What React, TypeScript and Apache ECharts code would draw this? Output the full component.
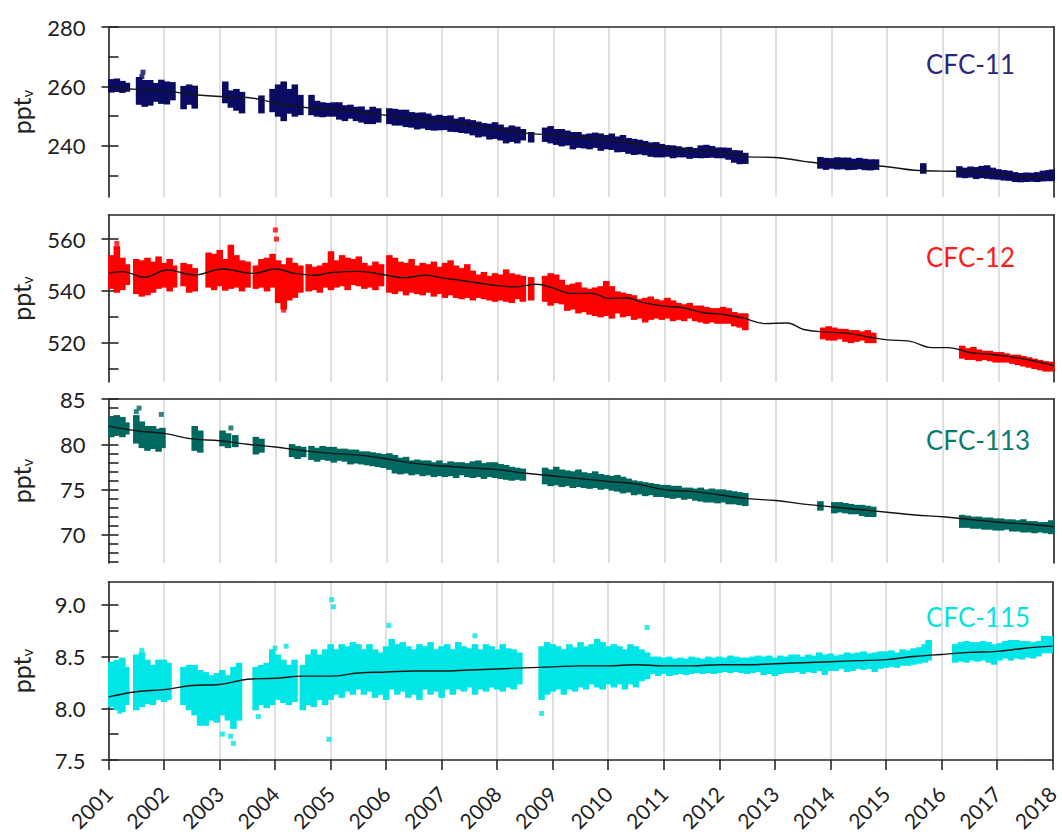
import { useEffect, useRef } from "react";
import * as echarts from "echarts";

const FONT = "Lato, 'Open Sans', sans-serif";
const AX = "#262626";

// ---- x axis ----
const yearMin = 2001;
const yearMax = 2018;

// ---- CFC-11 ----
const cfc11Trend = [
  [2001.0, 260.0], [2001.5, 259.0], [2002.0, 258.6], [2002.5, 257.3], [2003.0, 256.6], [2003.5, 256.3],
  [2004.0, 254.5], [2004.5, 253.0], [2005.0, 252.2], [2005.5, 251.5], [2006.0, 250.3], [2006.5, 249.0],
  [2007.0, 248.4], [2007.5, 247.0], [2008.0, 245.6], [2008.5, 244.3], [2009.0, 243.6], [2009.5, 242.8],
  [2010.0, 242.0], [2010.5, 240.7], [2011.0, 239.3], [2011.5, 238.5], [2012.0, 238.0], [2012.5, 236.3],
  [2013.0, 236.1], [2013.5, 234.8], [2014.0, 233.8], [2014.5, 233.5], [2015.0, 233.0], [2015.5, 231.8],
  [2016.0, 231.5], [2016.5, 231.3], [2017.0, 230.5], [2017.5, 229.4], [2018.0, 230.0],
];
const cfc11Ranges = [
  [2001.05, 258.6, 261.8], [2001.15, 258.8, 262.0], [2001.25, 258.5, 261.2], [2001.33, 258.9, 260.6],
  [2001.55, 254.5, 262.5], [2001.65, 253.8, 261.5], [2001.75, 254.2, 261.5], [2001.85, 255.5, 260.5],
  [2001.95, 254.8, 261.6], [2002.05, 254.6, 261.0], [2002.15, 256.0, 260.8],
  [2002.35, 253.0, 259.5], [2002.45, 254.5, 260.0], [2002.55, 253.2, 259.6],
  [2003.1, 255.0, 261.0], [2003.2, 253.5, 258.0], [2003.3, 252.5, 258.5], [2003.4, 251.6, 257.5],
  [2003.75, 251.6, 256.3],
  [2003.95, 252.0, 258.5], [2004.05, 250.5, 260.0], [2004.15, 249.0, 261.0], [2004.25, 251.5, 258.5],
  [2004.35, 250.5, 260.0], [2004.45, 251.0, 256.5],
  [2004.65, 251.0, 256.5], [2004.75, 250.5, 254.5], [2004.85, 250.3, 254.0], [2004.95, 250.5, 253.8],
  [2005.05, 250.5, 254.0], [2005.15, 249.5, 254.0], [2005.25, 249.0, 253.0], [2005.35, 249.8, 253.2],
  [2005.45, 249.0, 252.5], [2005.55, 248.5, 252.6], [2005.65, 248.0, 251.5], [2005.75, 248.0, 252.5],
  [2005.85, 248.5, 252.0],
  [2006.05, 248.0, 252.0], [2006.15, 247.5, 251.8], [2006.25, 247.5, 251.5], [2006.35, 247.0, 251.5],
  [2006.45, 246.8, 250.7], [2006.55, 246.2, 250.5], [2006.65, 246.5, 250.6], [2006.75, 246.0, 250.2],
  [2006.85, 245.8, 249.5], [2006.95, 245.9, 249.8], [2007.05, 246.0, 249.4], [2007.15, 245.4, 249.6],
  [2007.25, 245.3, 248.5], [2007.35, 245.0, 249.0], [2007.45, 244.8, 248.3], [2007.55, 244.2, 248.0],
  [2007.65, 243.5, 247.5], [2007.75, 243.8, 247.0], [2007.85, 242.8, 246.8], [2007.95, 243.0, 247.3],
  [2008.05, 242.5, 246.5], [2008.15, 241.5, 245.6], [2008.25, 242.0, 246.2], [2008.35, 241.5, 245.8],
  [2008.45, 242.5, 245.0],
  [2008.6, 241.8, 244.0],
  [2008.85, 242.0, 245.5], [2008.95, 241.5, 246.0], [2009.05, 241.0, 245.0], [2009.15, 240.5, 245.0],
  [2009.25, 240.8, 244.5], [2009.35, 239.5, 244.0], [2009.45, 240.0, 244.0], [2009.55, 239.8, 243.2],
  [2009.65, 239.5, 243.5], [2009.75, 240.0, 243.8], [2009.85, 239.0, 243.5], [2009.95, 239.5, 243.0],
  [2010.05, 239.3, 243.5], [2010.15, 238.5, 242.5], [2010.25, 238.6, 243.0], [2010.35, 238.0, 242.0],
  [2010.45, 237.6, 241.7], [2010.55, 237.8, 241.4], [2010.65, 237.5, 241.0], [2010.75, 237.0, 240.5],
  [2010.85, 236.8, 240.6], [2010.95, 236.8, 240.0], [2011.05, 237.0, 239.6], [2011.15, 236.5, 239.5],
  [2011.25, 236.8, 239.2], [2011.35, 236.8, 238.8], [2011.45, 236.3, 239.0], [2011.55, 236.6, 238.6],
  [2011.65, 236.5, 239.5], [2011.75, 236.6, 239.7], [2011.85, 236.7, 239.3], [2011.95, 236.5, 238.8],
  [2012.05, 236.5, 238.8], [2012.15, 236.0, 238.7], [2012.25, 235.0, 237.9], [2012.35, 234.5, 237.8],
  [2012.45, 234.6, 237.0],
  [2013.8, 233.0, 235.6], [2013.9, 232.6, 235.3], [2014.0, 233.0, 235.2], [2014.1, 232.7, 235.5],
  [2014.2, 232.8, 235.4], [2014.3, 232.5, 235.4], [2014.4, 232.6, 235.0], [2014.5, 232.8, 235.3],
  [2014.6, 232.5, 235.0], [2014.7, 232.4, 234.8], [2014.8, 232.6, 234.8],
  [2015.65, 231.3, 233.5],
  [2016.3, 230.0, 232.5], [2016.4, 229.8, 232.0], [2016.5, 230.0, 232.4], [2016.6, 229.5, 232.2],
  [2016.7, 229.8, 232.6], [2016.8, 229.6, 232.8], [2016.9, 229.4, 232.0], [2017.0, 229.3, 231.5],
  [2017.1, 229.0, 231.2], [2017.2, 228.9, 231.0], [2017.3, 228.5, 230.5], [2017.4, 228.4, 230.2],
  [2017.5, 228.5, 230.4], [2017.6, 228.6, 230.3], [2017.7, 228.5, 230.5], [2017.8, 228.7, 231.0],
  [2017.9, 228.8, 231.2], [2017.97, 228.8, 231.4],
];
const cfc11Outliers = [[2001.62, 264.8], [2001.6, 263.3]];
const cfc11Labels = [240, 260, 280];
const cfc11Ticks = [230, 240, 250, 260, 270, 280];

// ---- CFC-12 ----
const cfc12Trend = [
  [2001.0, 546.8], [2001.25, 547.4], [2001.65, 545.2], [2002.05, 548.0], [2002.55, 546.1], [2003.05, 548.4],
  [2003.6, 546.7], [2004.0, 548.4], [2004.35, 546.7], [2004.7, 546.0], [2005.0, 547.0], [2005.5, 547.5],
  [2006.0, 546.0], [2006.3, 545.0], [2006.7, 546.0], [2007.0, 545.0], [2007.5, 543.5], [2008.0, 542.0],
  [2008.3, 541.5], [2008.7, 542.5], [2009.0, 541.0], [2009.3, 539.0], [2009.7, 539.0], [2010.0, 537.0],
  [2010.3, 537.3], [2010.6, 535.5], [2011.0, 534.0], [2011.3, 533.5], [2011.7, 531.5], [2012.0, 531.0],
  [2012.4, 529.5], [2012.8, 527.3], [2013.2, 527.5], [2013.5, 525.0], [2013.9, 524.0], [2014.3, 523.5],
  [2014.7, 522.0], [2015.0, 521.0], [2015.4, 520.5], [2015.8, 518.0], [2016.1, 518.0], [2016.5, 516.0],
  [2016.8, 515.5], [2017.2, 514.5], [2017.6, 513.0], [2018.0, 511.0],
];
const cfc12Ranges = [
  [2001.05, 541.5, 553.0], [2001.15, 540.0, 556.5], [2001.25, 541.0, 552.0], [2001.33, 543.0, 549.5],
  [2001.5, 539.5, 551.5], [2001.6, 538.5, 551.0], [2001.7, 539.0, 552.0], [2001.8, 540.0, 550.5],
  [2001.9, 541.5, 552.5], [2002.0, 542.0, 550.0], [2002.1, 540.5, 551.5], [2002.18, 542.0, 549.0],
  [2002.35, 542.5, 550.0], [2002.45, 540.0, 549.5], [2002.55, 540.5, 548.0],
  [2002.8, 542.0, 554.0], [2002.9, 541.0, 553.5], [2003.0, 542.5, 555.0], [2003.1, 540.8, 551.5],
  [2003.2, 541.5, 557.0], [2003.3, 542.0, 553.0], [2003.4, 540.5, 551.0], [2003.5, 542.0, 550.5],
  [2003.65, 541.5, 549.0], [2003.75, 542.0, 551.5], [2003.85, 540.5, 552.0], [2003.95, 542.0, 553.5],
  [2004.05, 536.0, 551.0], [2004.15, 533.5, 549.5], [2004.25, 537.0, 552.0], [2004.35, 538.0, 550.0],
  [2004.45, 540.0, 549.0],
  [2004.6, 540.5, 549.5], [2004.7, 541.0, 548.5], [2004.8, 540.0, 549.0], [2004.9, 542.0, 550.0],
  [2005.0, 541.0, 554.5], [2005.1, 542.0, 551.0], [2005.2, 542.5, 553.0], [2005.3, 541.0, 552.0],
  [2005.4, 543.0, 551.5], [2005.5, 542.5, 552.5], [2005.6, 541.5, 550.0], [2005.7, 542.0, 549.0],
  [2005.8, 541.0, 550.5], [2005.9, 542.5, 549.5],
  [2006.05, 540.0, 553.0], [2006.15, 539.5, 552.0], [2006.25, 540.5, 550.5], [2006.35, 539.0, 550.0],
  [2006.45, 540.0, 551.5], [2006.55, 539.5, 549.0], [2006.65, 539.0, 550.0], [2006.75, 540.0, 549.5],
  [2006.85, 538.5, 550.5], [2006.95, 539.5, 548.5], [2007.05, 538.0, 550.0], [2007.15, 539.0, 551.0],
  [2007.25, 538.0, 549.0], [2007.35, 537.5, 548.0], [2007.45, 538.0, 549.5], [2007.55, 537.0, 547.0],
  [2007.65, 538.0, 545.5], [2007.75, 537.5, 546.5], [2007.85, 537.0, 545.0], [2007.95, 536.5, 546.0],
  [2008.05, 537.0, 545.5], [2008.15, 536.5, 547.5], [2008.25, 536.0, 546.0], [2008.35, 537.5, 545.5],
  [2008.45, 536.5, 545.0],
  [2008.6, 537.0, 544.5],
  [2008.85, 536.5, 545.0], [2008.95, 535.0, 546.0], [2009.05, 536.0, 545.5], [2009.15, 535.5, 543.5],
  [2009.25, 533.0, 541.5], [2009.35, 533.5, 542.0], [2009.45, 532.0, 542.5], [2009.55, 532.5, 540.5],
  [2009.65, 531.5, 540.0], [2009.75, 531.0, 540.5], [2009.85, 530.5, 541.0], [2009.95, 531.0, 543.0],
  [2010.05, 530.0, 541.0], [2010.15, 532.0, 539.0], [2010.25, 530.5, 538.5], [2010.35, 531.0, 538.0],
  [2010.45, 529.5, 537.5], [2010.55, 530.0, 536.0], [2010.65, 528.5, 536.5], [2010.75, 529.5, 537.0],
  [2010.85, 530.0, 536.0], [2010.95, 529.5, 535.5], [2011.05, 530.0, 536.5], [2011.15, 529.0, 535.5],
  [2011.25, 529.5, 534.5], [2011.35, 529.0, 534.0], [2011.45, 530.0, 534.5], [2011.55, 529.0, 533.5],
  [2011.65, 528.5, 533.5], [2011.75, 528.0, 533.0], [2011.85, 528.5, 532.5], [2011.95, 528.0, 532.5],
  [2012.05, 528.0, 533.0], [2012.15, 528.0, 532.5], [2012.25, 527.0, 531.0], [2012.35, 526.5, 530.5],
  [2012.45, 525.5, 530.5],
  [2013.85, 522.0, 525.0], [2013.95, 521.5, 525.5], [2014.05, 521.5, 525.0], [2014.15, 522.0, 524.5],
  [2014.25, 521.0, 524.5], [2014.35, 520.5, 524.0], [2014.45, 521.0, 524.0], [2014.55, 521.5, 523.5],
  [2014.65, 520.5, 524.0], [2014.75, 520.5, 523.0],
  [2016.35, 514.5, 518.0], [2016.45, 514.0, 517.0], [2016.55, 514.0, 517.5], [2016.65, 513.5, 516.5],
  [2016.75, 514.0, 516.0], [2016.85, 513.5, 516.0], [2016.95, 513.0, 515.5], [2017.05, 513.0, 515.5],
  [2017.15, 513.0, 515.0], [2017.25, 512.5, 514.5], [2017.35, 512.0, 514.5], [2017.45, 511.5, 514.0],
  [2017.55, 511.0, 513.5], [2017.65, 510.5, 513.0], [2017.75, 510.0, 512.5], [2017.85, 509.5, 512.0],
  [2017.95, 509.5, 511.8],
];
const cfc12Outliers = [[2001.15, 558.3], [2004.0, 563.5], [2004.02, 560.0], [2004.15, 532.5]];
const cfc12Labels = [520, 540, 560];
const cfc12Ticks = [510, 520, 530, 540, 550, 560];

// ---- CFC-113 ----
const cfc113Trend = [
  [2001.0, 82.0], [2001.5, 81.5], [2002.0, 81.2], [2002.5, 80.6], [2003.0, 80.4], [2003.5, 80.0],
  [2004.0, 79.7], [2004.5, 79.3], [2005.0, 79.0], [2005.5, 78.8], [2006.0, 78.4], [2006.5, 77.9],
  [2007.0, 77.6], [2007.5, 77.4], [2008.0, 77.2], [2008.5, 76.8], [2009.0, 76.5], [2009.5, 76.2],
  [2010.0, 75.9], [2010.5, 75.6], [2011.0, 75.0], [2011.5, 74.8], [2012.0, 74.4], [2012.5, 74.0],
  [2013.0, 73.8], [2013.5, 73.4], [2014.0, 73.1], [2014.5, 72.8], [2015.0, 72.5], [2015.5, 72.2],
  [2016.0, 72.0], [2016.5, 71.7], [2017.0, 71.4], [2017.5, 71.2], [2018.0, 70.9],
];
const cfc113Ranges = [
  [2001.05, 81.0, 82.8], [2001.15, 81.2, 83.0], [2001.25, 81.0, 82.8], [2001.32, 81.3, 82.2],
  [2001.5, 80.3, 83.0], [2001.6, 79.8, 82.3], [2001.7, 79.5, 81.8], [2001.8, 79.7, 81.8],
  [2001.9, 79.4, 81.5], [2001.97, 79.8, 81.6],
  [2002.55, 79.5, 81.8], [2002.65, 79.3, 81.3],
  [2003.05, 80.0, 81.3], [2003.15, 79.8, 81.0], [2003.28, 79.9, 80.8],
  [2003.65, 79.1, 80.6], [2003.75, 79.3, 80.4],
  [2004.3, 78.8, 79.8], [2004.4, 78.6, 79.6], [2004.5, 78.8, 79.5],
  [2004.65, 78.5, 79.6], [2004.75, 78.3, 79.4], [2004.85, 78.5, 79.6], [2004.95, 78.4, 79.5],
  [2005.05, 78.2, 79.5], [2005.15, 78.4, 79.3], [2005.25, 78.3, 79.3], [2005.35, 78.0, 79.2],
  [2005.45, 78.1, 79.2], [2005.55, 78.0, 79.0], [2005.65, 77.9, 79.0], [2005.75, 77.8, 78.9],
  [2005.85, 77.7, 78.8], [2005.95, 77.6, 78.7], [2006.05, 77.4, 78.8], [2006.15, 77.0, 78.6],
  [2006.25, 76.9, 78.3], [2006.35, 77.0, 78.4], [2006.45, 76.8, 78.0], [2006.55, 76.9, 78.1],
  [2006.65, 76.7, 78.0], [2006.75, 76.8, 78.0], [2006.85, 76.6, 77.8], [2006.95, 76.7, 78.0],
  [2007.05, 76.6, 77.7], [2007.15, 76.7, 77.9], [2007.25, 76.5, 77.8], [2007.35, 76.8, 77.8],
  [2007.45, 76.6, 77.7], [2007.55, 76.5, 77.9], [2007.65, 76.6, 78.0], [2007.75, 76.4, 77.7],
  [2007.85, 76.6, 77.8], [2007.95, 76.5, 77.8], [2008.05, 76.4, 77.6], [2008.15, 76.3, 77.5],
  [2008.25, 76.2, 77.3], [2008.35, 76.3, 77.2], [2008.45, 76.2, 77.1],
  [2008.85, 75.8, 77.2], [2008.95, 75.6, 77.0], [2009.05, 75.7, 77.3], [2009.15, 75.5, 77.0],
  [2009.25, 75.6, 76.9], [2009.35, 75.4, 76.8], [2009.45, 75.5, 77.0], [2009.55, 75.4, 76.7],
  [2009.65, 75.3, 76.6], [2009.75, 75.4, 76.8], [2009.85, 75.2, 76.5], [2009.95, 75.3, 76.4],
  [2010.05, 75.1, 76.3], [2010.15, 75.0, 76.4], [2010.25, 74.8, 76.2], [2010.35, 74.9, 76.0],
  [2010.45, 74.6, 75.8], [2010.55, 74.7, 75.7], [2010.65, 74.5, 75.6], [2010.75, 74.6, 75.5],
  [2010.85, 74.4, 75.4], [2010.95, 74.4, 75.3], [2011.05, 74.3, 75.3], [2011.15, 74.2, 75.2],
  [2011.25, 74.3, 75.2], [2011.35, 74.1, 75.0], [2011.45, 74.2, 75.0], [2011.55, 74.0, 74.9],
  [2011.65, 73.9, 75.0], [2011.75, 73.8, 74.8], [2011.85, 73.8, 74.9], [2011.95, 73.7, 74.8],
  [2012.05, 73.8, 74.8], [2012.15, 73.6, 74.7], [2012.25, 73.6, 74.6], [2012.35, 73.5, 74.5],
  [2012.45, 73.4, 74.4],
  [2013.8, 72.9, 73.5], [2014.05, 72.6, 73.4], [2014.15, 72.7, 73.4], [2014.25, 72.6, 73.3],
  [2014.35, 72.5, 73.2], [2014.45, 72.5, 73.1], [2014.55, 72.3, 73.1], [2014.65, 72.2, 73.0],
  [2014.75, 72.2, 72.9],
  [2016.35, 71.0, 72.0], [2016.45, 71.0, 71.9], [2016.55, 70.9, 71.8], [2016.65, 70.9, 71.8],
  [2016.75, 70.8, 71.7], [2016.85, 70.8, 71.7], [2016.95, 70.7, 71.6], [2017.05, 70.7, 71.6],
  [2017.15, 70.8, 71.5], [2017.25, 70.6, 71.5], [2017.35, 70.6, 71.4], [2017.45, 70.5, 71.5],
  [2017.55, 70.5, 71.3], [2017.65, 70.4, 71.3], [2017.75, 70.5, 71.2], [2017.85, 70.4, 71.2],
  [2017.95, 70.3, 71.4],
];
const cfc113Outliers = [[2001.55, 84.0], [2001.5, 83.6], [2001.95, 83.3], [2003.2, 81.8]];
const cfc113Labels = [70, 75, 80, 85];
const cfc113Ticks = [67, 68, 69, 70, 71, 72, 73, 74, 75, 76, 77, 78, 79, 80, 81, 82, 83, 84, 85];

// ---- CFC-115 ----
const cfc115Trend = [
  [2001.0, 8.11], [2001.5, 8.16], [2002.0, 8.18], [2002.5, 8.22], [2003.0, 8.23], [2003.5, 8.28],
  [2004.0, 8.29], [2004.5, 8.31], [2005.0, 8.31], [2005.5, 8.34], [2006.0, 8.35], [2006.5, 8.36],
  [2007.0, 8.36], [2007.5, 8.37], [2008.0, 8.38], [2008.5, 8.39], [2009.0, 8.40], [2009.5, 8.41],
  [2010.0, 8.41], [2010.5, 8.42], [2011.0, 8.41], [2011.5, 8.41], [2012.0, 8.42], [2012.5, 8.42],
  [2013.0, 8.43], [2013.5, 8.44], [2014.0, 8.45], [2014.5, 8.46], [2015.0, 8.47], [2015.5, 8.50],
  [2016.0, 8.52], [2016.5, 8.54], [2017.0, 8.55], [2017.5, 8.58], [2018.0, 8.60],
];
const cfc115Ranges = [
  [2001.05, 8.03, 8.43], [2001.15, 8.00, 8.45], [2001.25, 7.98, 8.47], [2001.32, 8.05, 8.38],
  [2001.5, 8.00, 8.50], [2001.6, 8.03, 8.52], [2001.7, 8.06, 8.45], [2001.8, 8.05, 8.40],
  [2001.9, 8.10, 8.45], [2002.0, 8.08, 8.45], [2002.08, 8.10, 8.42],
  [2002.35, 8.05, 8.38], [2002.45, 8.00, 8.40], [2002.55, 7.95, 8.40], [2002.65, 7.85, 8.35],
  [2002.75, 7.85, 8.33], [2002.85, 7.90, 8.30], [2002.95, 7.88, 8.32], [2003.05, 7.95, 8.35],
  [2003.15, 7.90, 8.30], [2003.25, 7.82, 8.38], [2003.35, 7.90, 8.42],
  [2003.65, 8.00, 8.38], [2003.75, 8.05, 8.40], [2003.85, 8.02, 8.42],
  [2003.95, 8.05, 8.55], [2004.05, 8.10, 8.50], [2004.15, 8.07, 8.45], [2004.25, 8.05, 8.40],
  [2004.35, 8.08, 8.45],
  [2004.5, 8.00, 8.40], [2004.6, 8.05, 8.50], [2004.7, 8.03, 8.55], [2004.8, 8.10, 8.50],
  [2004.9, 8.05, 8.55], [2005.0, 8.10, 8.60], [2005.1, 8.15, 8.55], [2005.2, 8.12, 8.60],
  [2005.3, 8.18, 8.58], [2005.4, 8.15, 8.62], [2005.5, 8.20, 8.60], [2005.6, 8.15, 8.55],
  [2005.7, 8.18, 8.60], [2005.8, 8.12, 8.55], [2005.9, 8.15, 8.52], [2006.0, 8.10, 8.58],
  [2006.1, 8.20, 8.65], [2006.2, 8.15, 8.60], [2006.3, 8.18, 8.62], [2006.4, 8.12, 8.58],
  [2006.5, 8.15, 8.55], [2006.6, 8.10, 8.60], [2006.7, 8.20, 8.58], [2006.8, 8.15, 8.62],
  [2006.9, 8.18, 8.55], [2007.0, 8.12, 8.58], [2007.1, 8.20, 8.60], [2007.2, 8.15, 8.55],
  [2007.3, 8.20, 8.62], [2007.4, 8.18, 8.58], [2007.5, 8.22, 8.56], [2007.6, 8.15, 8.60],
  [2007.7, 8.20, 8.55], [2007.8, 8.18, 8.60], [2007.9, 8.22, 8.58], [2008.0, 8.20, 8.55],
  [2008.1, 8.18, 8.60], [2008.2, 8.22, 8.56], [2008.3, 8.20, 8.55], [2008.4, 8.25, 8.52],
  [2008.8, 8.10, 8.58], [2008.9, 8.15, 8.62], [2009.0, 8.18, 8.60], [2009.1, 8.20, 8.58],
  [2009.2, 8.15, 8.55], [2009.3, 8.20, 8.60], [2009.4, 8.18, 8.57], [2009.5, 8.22, 8.62],
  [2009.6, 8.20, 8.58], [2009.7, 8.25, 8.60], [2009.8, 8.22, 8.65], [2009.9, 8.20, 8.62],
  [2010.0, 8.25, 8.58], [2010.1, 8.22, 8.60], [2010.2, 8.25, 8.58], [2010.3, 8.20, 8.55],
  [2010.4, 8.25, 8.60], [2010.5, 8.22, 8.58], [2010.6, 8.28, 8.55], [2010.7, 8.30, 8.52],
  [2010.8, 8.35, 8.48], [2010.9, 8.33, 8.48], [2011.0, 8.35, 8.47], [2011.1, 8.33, 8.48],
  [2011.2, 8.34, 8.46], [2011.3, 8.35, 8.47], [2011.4, 8.34, 8.46], [2011.5, 8.35, 8.48],
  [2011.6, 8.36, 8.47], [2011.7, 8.35, 8.46], [2011.8, 8.36, 8.48], [2011.9, 8.35, 8.47],
  [2012.0, 8.36, 8.48], [2012.1, 8.37, 8.47], [2012.2, 8.36, 8.49], [2012.3, 8.37, 8.48],
  [2012.4, 8.36, 8.47], [2012.5, 8.35, 8.47], [2012.6, 8.36, 8.48], [2012.7, 8.37, 8.49],
  [2012.8, 8.34, 8.48], [2012.9, 8.35, 8.49], [2013.0, 8.33, 8.47], [2013.1, 8.35, 8.49],
  [2013.2, 8.36, 8.48], [2013.3, 8.36, 8.50], [2013.4, 8.37, 8.50], [2013.5, 8.35, 8.48],
  [2013.6, 8.37, 8.50], [2013.7, 8.36, 8.49], [2013.8, 8.38, 8.52], [2013.9, 8.34, 8.50],
  [2014.0, 8.38, 8.51], [2014.1, 8.38, 8.49], [2014.2, 8.40, 8.50], [2014.3, 8.37, 8.52],
  [2014.4, 8.38, 8.51], [2014.5, 8.40, 8.52], [2014.6, 8.39, 8.53], [2014.7, 8.40, 8.51],
  [2014.8, 8.37, 8.52], [2014.9, 8.40, 8.53], [2015.0, 8.41, 8.53], [2015.1, 8.42, 8.54],
  [2015.2, 8.41, 8.52], [2015.3, 8.43, 8.55], [2015.4, 8.43, 8.54], [2015.5, 8.44, 8.56],
  [2015.6, 8.45, 8.57], [2015.7, 8.46, 8.60], [2015.77, 8.48, 8.64],
  [2016.25, 8.46, 8.60], [2016.35, 8.47, 8.62], [2016.45, 8.46, 8.63], [2016.55, 8.48, 8.62],
  [2016.65, 8.47, 8.62], [2016.75, 8.48, 8.63], [2016.85, 8.46, 8.62], [2016.95, 8.44, 8.60],
  [2017.05, 8.48, 8.61], [2017.15, 8.50, 8.63], [2017.25, 8.48, 8.64], [2017.35, 8.50, 8.64],
  [2017.45, 8.49, 8.63], [2017.55, 8.51, 8.63], [2017.65, 8.50, 8.62], [2017.75, 8.52, 8.63],
  [2017.85, 8.55, 8.68], [2017.95, 8.55, 8.68],
];
const cfc115Outliers = [
  [2001.6, 8.56], [2001.2, 7.97], [2003.05, 7.75], [2003.2, 7.73], [2003.25, 7.66], [2003.7, 7.92],
  [2004.0, 8.58], [2004.2, 8.60], [2005.02, 9.05], [2005.05, 8.98], [2004.97, 7.70], [2006.05, 8.80],
  [2008.8, 7.95], [2010.7, 8.78], [2007.6, 8.70],
];
const cfc115Labels = [7.5, 8.0, 8.5, 9.0];
const cfc115Ticks = [7.5, 7.75, 8.0, 8.25, 8.5, 8.75, 9.0];

const panels = [
  { name: "CFC-11", trend: cfc11Trend, ranges: cfc11Ranges, outliers: cfc11Outliers, labels: cfc11Labels, ticks: cfc11Ticks,
    min: 222.8, max: 280, top: 27, height: 170, color: "#0b0b63", labelColor: "#28287c", labelY: 67, fmt: (v: number) => String(v) },
  { name: "CFC-12", trend: cfc12Trend, ranges: cfc12Ranges, outliers: cfc12Outliers, labels: cfc12Labels, ticks: cfc12Ticks,
    min: 504.7, max: 569.3, top: 215, height: 167, color: "#ff0000", labelColor: "#ff1a1a", labelY: 260, fmt: (v: number) => String(v) },
  { name: "CFC-113", trend: cfc113Trend, ranges: cfc113Ranges, outliers: cfc113Outliers, labels: cfc113Labels, ticks: cfc113Ticks,
    min: 66.9, max: 85, top: 399, height: 164, color: "#00685f", labelColor: "#0a7a70", labelY: 443, fmt: (v: number) => String(v) },
  { name: "CFC-115", trend: cfc115Trend, ranges: cfc115Ranges, outliers: cfc115Outliers, labels: cfc115Labels, ticks: cfc115Ticks,
    min: 7.5, max: 9.22, top: 582, height: 178, color: "#00e6e6", labelColor: "#00e3e3", labelY: 620, fmt: (v: number) => v.toFixed(1) },
];

export default function App() {
  const ref = useRef<HTMLDivElement>(null);
  useEffect(() => {
    if (!ref.current) return;
    const chart = echarts.init(ref.current, undefined, { renderer: "svg" });
    const grid: any[] = [];
    const xAxis: any[] = [];
    const yAxis: any[] = [];
    const series: any[] = [];
    const graphic: any[] = [];
    panels.forEach((p, i) => {
      const last = i === panels.length - 1;
      grid.push({ left: 107.5, right: 8, top: p.top, height: p.height, containLabel: false });
      xAxis.push({
        gridIndex: i, type: "value", min: yearMin, max: yearMax, interval: 1, position: "bottom",
        axisLine: { show: last, onZero: false, lineStyle: { color: AX, width: 1.6 } },
        axisTick: { show: last, length: 10, lineStyle: { color: AX, width: 1.6 } },
        axisLabel: {
          show: last, rotate: 45, margin: 30, fontSize: 21, fontFamily: FONT, color: "#222",
          formatter: (v: number) => String(v),
        },
        splitLine: { show: true, lineStyle: { color: "#d6d6d6", width: 1.5 } },
      });
      xAxis.push({
        gridIndex: i, type: "value", min: yearMin, max: yearMax, position: "top",
        axisLine: { show: true, lineStyle: { color: AX, width: 1.6 } },
        axisTick: { show: false }, axisLabel: { show: false }, splitLine: { show: false },
      });
      yAxis.push({
        gridIndex: i, type: "value", min: p.min, max: p.max, position: "left",
        axisLine: { show: true, onZero: false, lineStyle: { color: AX, width: 1.6 } },
        axisTick: { show: true, inside: false, length: 7, customValues: p.labels, lineStyle: { color: AX, width: 1.6 } },
        axisLabel: { customValues: p.labels, formatter: p.fmt, margin: 23, fontSize: 22, fontFamily: FONT, color: "#222" },
        splitLine: { show: false },
        name: "{a|ppt}{b|v}", nameLocation: "middle", nameRotate: 90, nameGap: 74,
        nameTextStyle: {
          rich: {
            a: { fontSize: 25, fontFamily: FONT, color: "#222", lineHeight: 28 },
            b: { fontSize: 15, fontFamily: FONT, color: "#222", lineHeight: 15, verticalAlign: "bottom", padding: [5, 0, 0, 0] },
          },
        },
      });
      yAxis.push({
        gridIndex: i, type: "value", min: p.min, max: p.max, position: "left", offset: 0,
        axisLine: { show: false },
        axisTick: { show: true, inside: true, length: 10, customValues: p.ticks, lineStyle: { color: AX, width: 1.6 } },
        axisLabel: { show: false }, splitLine: { show: false },
      });
      yAxis.push({
        gridIndex: i, type: "value", min: p.min, max: p.max, position: "right",
        axisLine: { show: true, onZero: false, lineStyle: { color: AX, width: 1.6 } },
        axisTick: { show: false }, axisLabel: { show: false }, splitLine: { show: false },
      });
      const color = p.color;
      series.push({
        type: "custom", xAxisIndex: 2 * i, yAxisIndex: 3 * i, clip: true,
        data: p.ranges, encode: { x: 0, y: [1, 2] },
        renderItem: (_params: any, api: any) => {
          const t = api.value(0);
          const a = api.coord([t - 0.05, api.value(2)]);
          const b = api.coord([t + 0.05, api.value(1)]);
          return {
            type: "rect",
            shape: { x: a[0] - 0.5, y: a[1] - 2, width: b[0] - a[0] + 1, height: b[1] - a[1] + 4 },
            style: { fill: color },
          };
        },
        z: 2,
      });
      series.push({
        type: "scatter", xAxisIndex: 2 * i, yAxisIndex: 3 * i, data: p.outliers,
        symbol: "rect", symbolSize: 5, itemStyle: { color }, z: 2,
      });
      series.push({
        type: "line", xAxisIndex: 2 * i, yAxisIndex: 3 * i, data: p.trend, smooth: 0.4,
        showSymbol: false, symbol: "none", lineStyle: { color: "#151515", width: 1.4 }, z: 3,
      });
      graphic.push({
        type: "text", left: 926, top: p.labelY - 16,
        style: { text: p.name, fontSize: 26, fontFamily: FONT, fill: p.labelColor },
      });
    });
    chart.setOption({ animation: false, grid, xAxis, yAxis, series, graphic });
    return () => chart.dispose();
  }, []);
  return <div ref={ref} style={{ position: "absolute", left: 0, top: 0, width: 1062, height: 835, background: "#fff" }} />;
}
